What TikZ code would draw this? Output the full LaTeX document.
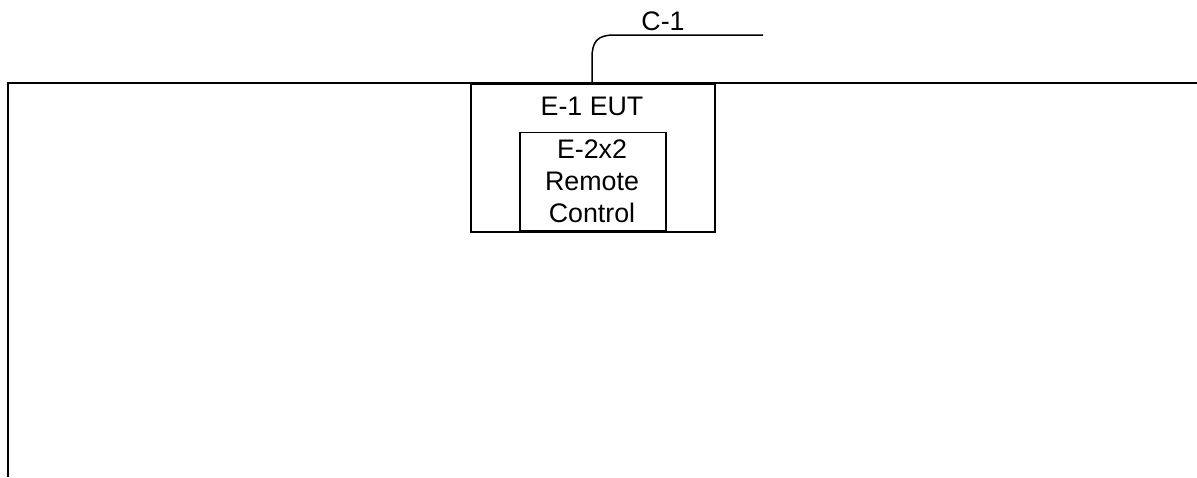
\documentclass[tikz,border=0pt]{standalone}
\usepackage{fontspec}
\setmainfont{Liberation Sans}
\begin{document}
\begin{tikzpicture}[x=1pt,y=-1pt,
  box/.style={draw,line width=1.5pt,inner sep=0pt},
  lbl/.style={font=\fontsize{26.8}{31}\selectfont,inner sep=0pt,anchor=base}]
\useasboundingbox (0,0) rectangle (1197,477);
% frame
\coordinate (fbl) at (8,477);
\coordinate (ftl) at (8,83);
\coordinate (ftr) at (1197,83);
\draw[line width=1.5pt] (fbl) -- (ftl) -- (ftr);
% EUT box
\node[box,minimum width=244pt,minimum height=148pt,anchor=north west] (eut) at (470,83) {};
\node[lbl] (eutlbl) at (592,115) {E-1 EUT};
% remote control box
\node[box,minimum width=146pt,minimum height=98pt,anchor=south west] (rc) at (519,231) {};
\node[lbl] (rc1) at (592,158) {E-2x2};
\node[lbl] (rc2) at (592,190) {Remote};
\node[lbl] (rc3) at (592,222) {Control};
% cable
\coordinate (cs) at (592,83);
\coordinate (cend) at (763,35);
\draw[line width=1.5pt] (cs) -- (592,58) .. controls (592,42) and (597,35) .. (614,35) -- (cend);
\node[lbl] (c1) at (663,30) {C-1};
\end{tikzpicture}
\end{document}
